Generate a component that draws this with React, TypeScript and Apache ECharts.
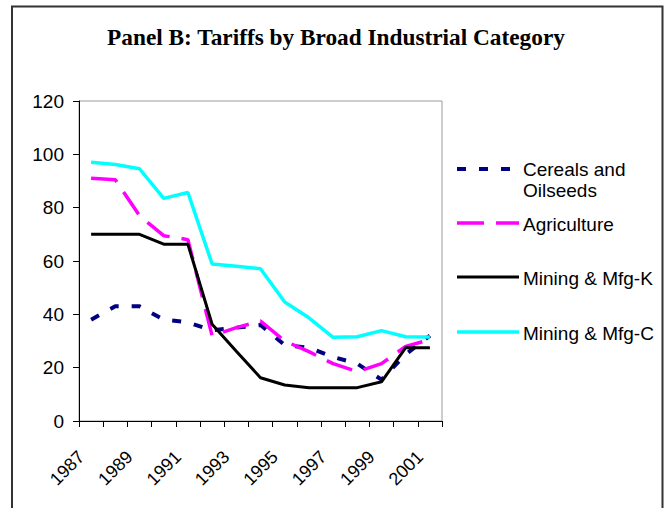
import React, { useEffect, useRef } from "react";
import * as echarts from "echarts";

const years = ["1987","1988","1989","1990","1991","1992","1993","1994","1995","1996","1997","1998","1999","2000","2001"];
const cereals = [38, 43, 43, 38, 37, 34, 35, 36, 28.5, 27.5, 24, 21.5, 15.5, 25, 32];
const agriculture = [91, 90.5, 77, 69.5, 68, 32, 35, 37.5, 30, 26, 21.5, 18.5, 21.5, 28, 30.5];
const mfgK = [70, 70, 70, 66.3, 66.3, 36.3, 26.2, 16.2, 13.5, 12.5, 12.5, 12.5, 14.7, 27.5, 27.5];
const mfgC = [97, 96.2, 94.6, 83.5, 85.7, 58.9, 58, 57.1, 44.6, 38.7, 31.4, 31.6, 33.9, 31.6, 31.5];
const seriesNames = ["Cereals and Oilseeds", "Agriculture", "Mining & Mfg-K", "Mining & Mfg-C"];
const titleText = "Panel B: Tariffs by Broad Industrial Category";

const SANS = "Liberation Sans, Arial, sans-serif";
const SERIF = "Liberation Serif, Times New Roman, serif";

export default function App() {
  const ref = useRef<HTMLDivElement>(null);
  useEffect(() => {
    if (!ref.current) return;
    const chart = echarts.init(ref.current, undefined, { renderer: "svg" });
    const styles = [
      { color: "#000080", width: 4, type: [9, 13] as any },
      { color: "#ff00ff", width: 3.5, type: [27, 12] as any },
      { color: "#000000", width: 3, type: "solid" as any },
      { color: "#00ffff", width: 3.5, type: "solid" as any },
    ];
    const datas = [cereals, agriculture, mfgK, mfgC];
    const legendY = [169, 223, 277, 332];
    const legendGraphics: any[] = [];
    styles.forEach((s, i) => {
      legendGraphics.push({
        type: "line",
        shape: { x1: 457, y1: legendY[i], x2: 519, y2: legendY[i] },
        style: { stroke: s.color, lineWidth: s.width, lineDash: Array.isArray(s.type) ? s.type : null },
        silent: true,
      });
    });
    const legendTexts = ["Cereals and\nOilseeds", "Agriculture", "Mining & Mfg-K", "Mining & Mfg-C"];
    legendTexts.forEach((t, i) => {
      legendGraphics.push({
        type: "text",
        x: 523,
        y: i === 0 ? legendY[0] - 10 : legendY[i] + 1,
        style: {
          text: t,
          fill: "#000",
          font: `19px ${SANS}`,
          textAlign: "left",
          textVerticalAlign: i === 0 ? "top" : "middle",
          lineHeight: 21,
        },
      });
    });
    chart.setOption({
      animation: false,
      backgroundColor: "#fff",
      title: {
        text: titleText,
        left: "center",
        top: 20,
        textStyle: { fontFamily: SERIF, fontWeight: "bold", fontSize: 23.3, color: "#000" },
      },
      grid: {
        left: 79,
        right: 230,
        top: 101,
        height: 320,
        show: true,
        borderColor: "#9a9a9a",
        borderWidth: 1,
        containLabel: false,
      },
      xAxis: {
        type: "category",
        data: years,
        boundaryGap: true,
        axisLine: { lineStyle: { color: "#000", width: 1 } },
        axisTick: { show: true, alignWithLabel: false, interval: 0, length: 6, lineStyle: { color: "#000" } },
        axisLabel: {
          interval: 1,
          rotate: 45,
          margin: 23,
          color: "#000",
          fontFamily: SANS,
          fontSize: 18,
          padding: [0, 14, 28, 0],
        },
        splitLine: { show: false },
      },
      yAxis: {
        type: "value",
        min: 0,
        max: 120,
        interval: 20,
        axisLine: { show: true, lineStyle: { color: "#000", width: 1 } },
        axisTick: { show: true, length: 6, lineStyle: { color: "#000" } },
        axisLabel: { margin: 15, color: "#000", fontFamily: SANS, fontSize: 19 },
        splitLine: { show: false },
      },
      series: datas.map((d, i) => ({
        name: seriesNames[i],
        type: "line",
        data: d,
        symbol: "none",
        lineStyle: styles[i],
        z: 2 + i,
      })),
      graphic: [
        {
          type: "rect",
          shape: { x: 12, y: 6.5, width: 650.5, height: 530 },
          style: { fill: "none", stroke: "#333", lineWidth: 2 },
          silent: true,
          z: 100,
        },
        ...legendGraphics,
      ],
    });
    return () => chart.dispose();
  }, []);
  return <div ref={ref} style={{ position: "absolute", left: 0, top: 0, width: 672, height: 508 }} />;
}
